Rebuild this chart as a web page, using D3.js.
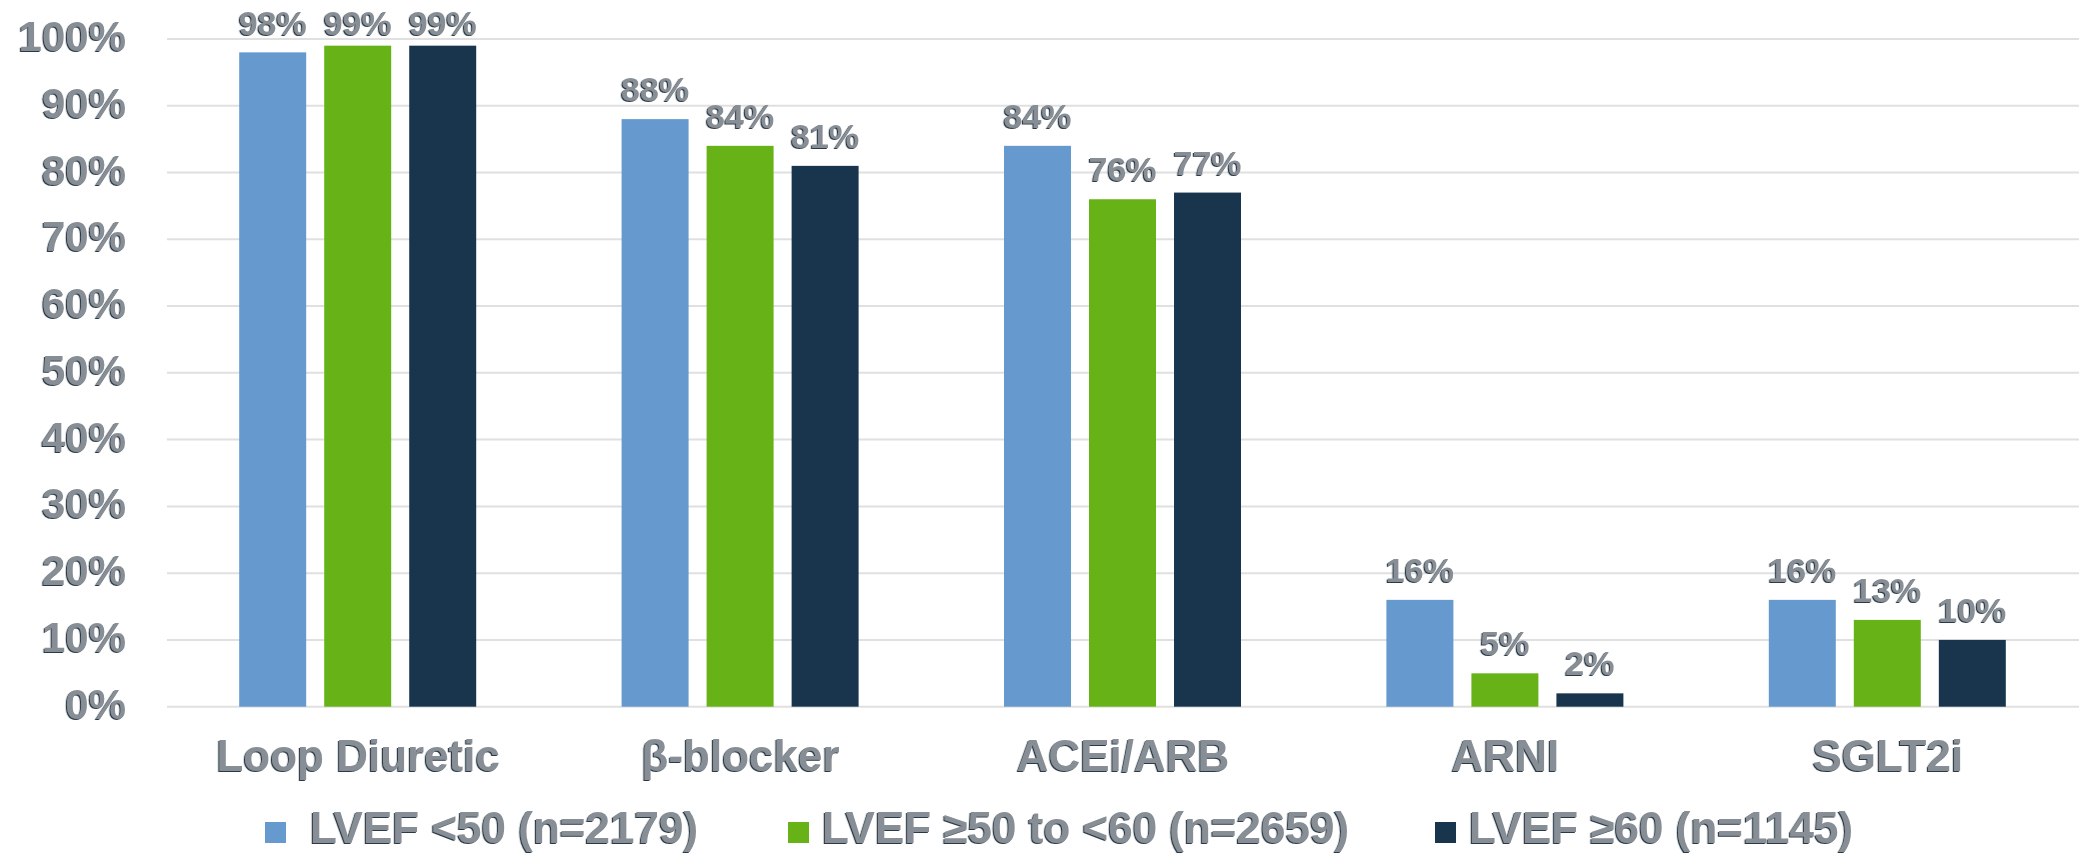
<!DOCTYPE html>
<html>
<head>
<meta charset="utf-8">
<script src="https://cdn.jsdelivr.net/npm/d3@7"></script>
<style>
  html, body { margin: 0; padding: 0; background: #ffffff; }
  svg { display: block; }
  text { font-family: "Liberation Sans", Arial, sans-serif; font-weight: bold; }
</style>
</head>
<body>
<svg id="chart" width="2079" height="856"></svg>
<script>
// Medication use by LVEF group (percent of patients)
const categories = ["Loop Diuretic", "β-blocker", "ACEi/ARB", "ARNI", "SGLT2i"];
const seriesNames = ["LVEF <50 (n=2179)", "LVEF ≥50 to <60 (n=2659)", "LVEF ≥60 (n=1145)"];
const lvefBelow50 = [98, 88, 84, 16, 16];
const lvef50to60 = [99, 84, 76, 5, 13];
const lvefAbove60 = [99, 81, 77, 2, 10];
const yTicks = [0, 10, 20, 30, 40, 50, 60, 70, 80, 90, 100];
const seriesColors = ["#6699cd", "#67b317", "#18354d"];

const seriesValues = [lvefBelow50, lvef50to60, lvefAbove60];

const svg = d3.select("#chart");
const plot = { left: 167, right: 2079, top: 39, bottom: 706.7 };

const defs = svg.append("defs");
const f = defs.append("filter").attr("id", "txtShadow")
  .attr("x", "-10%").attr("y", "-20%").attr("width", "120%").attr("height", "140%");
f.append("feDropShadow").attr("dx", -1.2).attr("dy", 1).attr("stdDeviation", 0.4)
  .attr("flood-color", "#1f2e3d").attr("flood-opacity", 0.95);

const textFill = "#878e95";

const x0 = d3.scaleBand().domain(categories).range([plot.left, plot.right]).paddingInner(0).paddingOuter(0);
const x1 = d3.scaleBand().domain(d3.range(seriesNames.length)).range([-119, 118]).paddingInner(0.212);
const y = d3.scaleLinear().domain([0, 100]).range([plot.bottom, plot.top]);

// horizontal gridlines
svg.append("g").selectAll("line").data(yTicks).join("line")
  .attr("x1", plot.left).attr("x2", plot.right)
  .attr("y1", d => y(d)).attr("y2", d => y(d))
  .attr("stroke", "#e0e0e0").attr("stroke-width", 2);

// y axis labels
const yAxis = d3.axisLeft(y).tickValues(yTicks).tickFormat(d => d + "%").tickSize(0).tickPadding(0);
const gy = svg.append("g").attr("transform", "translate(126,0)").call(yAxis);
gy.select(".domain").remove();
gy.selectAll("text")
  .attr("fill", textFill).attr("font-size", 42).attr("font-weight", "bold")
  .attr("font-family", "'Liberation Sans', Arial, sans-serif")
  .attr("dy", null).attr("y", 11.5).attr("dominant-baseline", "alphabetic")
  .attr("filter", "url(#txtShadow)");

// category labels
const xAxis = d3.axisBottom(x0).tickSize(0).tickPadding(0);
const gx = svg.append("g").attr("transform", "translate(0," + plot.bottom + ")").call(xAxis);
gx.select(".domain").remove();
gx.selectAll("text")
  .attr("fill", textFill).attr("font-size", 44).attr("font-weight", "bold")
  .attr("font-family", "'Liberation Sans', Arial, sans-serif")
  .attr("dy", null).attr("y", 64).attr("dominant-baseline", "alphabetic")
  .attr("filter", "url(#txtShadow)");

// bars and value labels
const groups = svg.append("g").selectAll("g").data(categories).join("g")
  .attr("transform", d => "translate(" + (x0(d) + x0.bandwidth() / 2) + ",0)");

groups.selectAll("rect")
  .data((c, ci) => seriesValues.map((vals, si) => ({ si, v: vals[ci] })))
  .join("rect")
  .attr("x", d => x1(d.si))
  .attr("width", x1.bandwidth())
  .attr("y", d => y(d.v))
  .attr("height", d => y(0) - y(d.v))
  .attr("fill", d => seriesColors[d.si]);

// value labels sit above each bar, kept inside the top of the chart
const labelTopLimit = 34.5;
groups.selectAll("text")
  .data((c, ci) => seriesValues.map((vals, si) => ({ si, v: vals[ci] })))
  .join("text")
  .attr("x", d => x1(d.si) + x1.bandwidth() / 2)
  .attr("y", d => Math.max(y(d.v) - 18, labelTopLimit))
  .attr("text-anchor", "middle")
  .attr("font-size", 34)
  .attr("fill", textFill)
  .attr("filter", "url(#txtShadow)")
  .text(d => d.v + "%");

// legend
const legendX = [265, 788, 1435];
const legend = svg.append("g").selectAll("g").data(seriesNames).join("g")
  .attr("transform", (d, i) => "translate(" + legendX[i] + ",0)");
legend.append("rect")
  .attr("x", 0).attr("y", 822).attr("width", 21).attr("height", 21)
  .attr("fill", (d, i) => seriesColors[i]);
legend.append("text")
  .attr("x", (d, i) => i === 0 ? 45 : 34)
  .attr("y", 843)
  .attr("font-size", 44)
  .attr("fill", textFill)
  .attr("filter", "url(#txtShadow)")
  .text(d => d);
</script>
</body>
</html>
